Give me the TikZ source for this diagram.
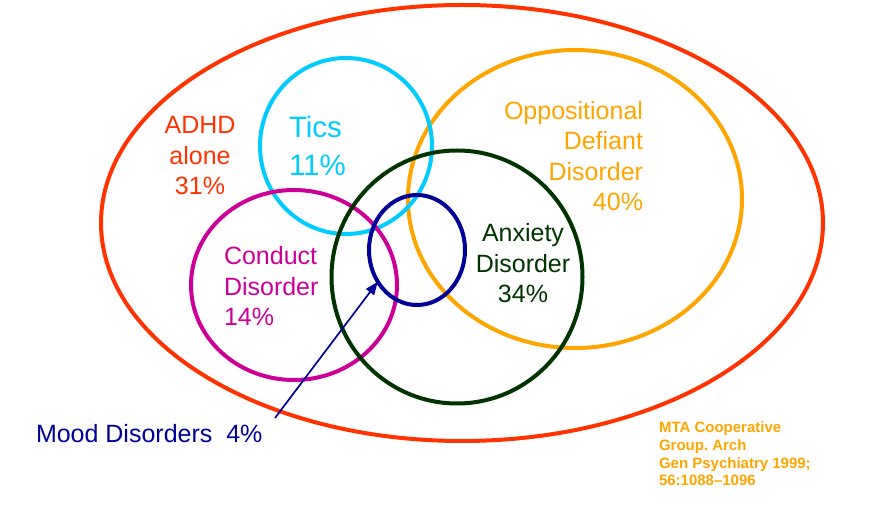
\documentclass[tikz,border=0pt]{standalone}
\usepackage{fontspec}
\setmainfont{Liberation Sans}
\usetikzlibrary{shapes.geometric,arrows.meta}
\definecolor{adhdred}{HTML}{FF3300}
\definecolor{ticcyan}{HTML}{00CCFF}
\definecolor{oddorange}{HTML}{FFA500}
\definecolor{anxgreen}{HTML}{003300}
\definecolor{cdmagenta}{HTML}{CC0099}
\definecolor{moodnavy}{HTML}{000099}
\frenchspacing
\begin{document}
\begin{tikzpicture}[x=1pt,y=-1pt,line width=4pt,
	set/.style={ellipse,draw,inner sep=0pt,outer sep=0pt},
	lbl/.style={inner sep=0pt,anchor=base,font=\fontsize{25}{30.5}\selectfont}]
	\useasboundingbox (0,0) rectangle (879,510);
	\node[set,draw=adhdred,minimum width=722,minimum height=436] (adhd) at (462,223) {};
	\node[set,draw=oddorange,minimum width=334,minimum height=298] (odd) at (575,199) {};
	\node[set,draw=ticcyan,minimum width=172,minimum height=176] (tics) at (346,146) {};
	\node[set,draw=cdmagenta,minimum width=206,minimum height=190] (conduct) at (294,285) {};
	\node[set,draw=anxgreen,minimum width=251,minimum height=253] (anx) at (457,277) {};
	\node[set,draw=moodnavy,minimum width=96,minimum height=110] (mood) at (417,250) {};
	\node[lbl,text=adhdred,align=center] (adhdtxt) at (200,195) {ADHD\\alone\\31\%};
	\node[lbl,text=ticcyan,align=left,anchor=base west,font=\fontsize{29.5}{38}\selectfont] (ticstxt) at (287,176) {Tics\\11\%};
	\node[lbl,text=oddorange,align=right,anchor=base east] (oddtxt) at (645,211) {Oppositional\\Defiant\\Disorder\\40\%};
	\node[lbl,text=anxgreen,align=center] (anxtxt) at (523,303) {Anxiety\\Disorder\\34\%};
	\node[lbl,text=cdmagenta,align=left,anchor=base west] (conducttxt) at (222,326) {Conduct\\Disorder\\14\%};
	\node[lbl,text=moodnavy,anchor=base west] (moodtxt) at (34,443) {Mood Disorders\ \ 4\%};
	\node[lbl,text=oddorange,align=left,anchor=base west,font=\bfseries\fontsize{15}{17.8}\selectfont] (cite) at (657,486)
	{MTA Cooperative\\Group. Arch\\Gen Psychiatry 1999;\\56:1088--1096};
	\coordinate (moodtail) at (275,418);
	\draw[moodnavy,line width=1.7pt,-{Triangle[length=13pt,width=10pt]}] (moodtail) -- (mood.219);
\end{tikzpicture}
\end{document}
